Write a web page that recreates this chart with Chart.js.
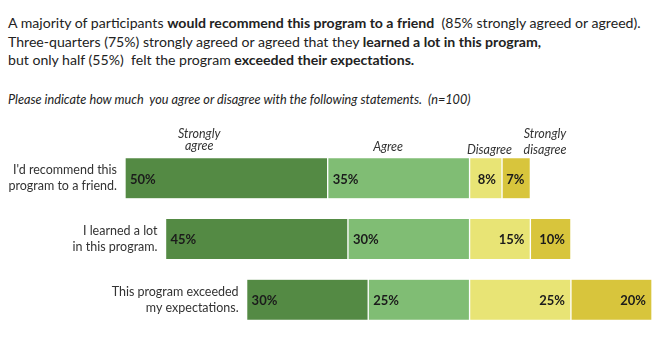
<!DOCTYPE html>
<html>
<head>
<meta charset="utf-8">
<script src="https://cdn.jsdelivr.net/npm/chart.js@4.4.1/dist/chart.umd.min.js"></script>
<style>
    body {
        margin: 0;
        width: 665px;
        height: 338px;
        overflow: hidden;
        position: relative;
        background: #fff;
        color: #222;
        font-family: Lato, "Open Sans", sans-serif;
    }
    #headline {
        position: absolute;
        left: 8px;
        top: 14px;
        font-size: 14.1px;
        line-height: 18.5px;
        white-space: pre;
    }
    #question {
        position: absolute;
        left: 8px;
        top: 91px;
        font-size: 12.7px;
        font-style: italic;
        white-space: pre;
    }
    #chartBox {
        position: absolute;
        left: 0;
        top: 110px;
        width: 665px;
        height: 228px;
    }
</style>
</head>
<body>

<div id="headline">A majority of participants <b>would recommend this program to a friend</b>  (85% strongly agreed or agreed).
Three-quarters (75%) strongly agreed or agreed that they <b>learned a lot in this program,</b>
but only half (55%)  felt the program <b>exceeded their expectations.</b></div>
<div id="question">Please indicate how much  you agree or disagree with the following statements.  (n=100)</div>

<div id="chartBox"><canvas id="surveyChart"></canvas></div>

<script>
// Survey responses, percent of participants
const statements = [
    ["I'd recommend this", "program to a friend."],
    ["I learned a lot", "in this program."],
    ["This program exceeded", "my expectations."]
];
const stronglyAgree    = [50, 45, 30];
const agree            = [35, 30, 25];
const disagree         = [8, 15, 25];
const stronglyDisagree = [7, 10, 20];

const colors = {
    stronglyAgree:    "#548a44",
    agree:            "#80bd74",
    disagree:         "#e8e475",
    stronglyDisagree: "#d8c53c"
};

// Column headings above the first bar (x given in scale units)
const headings = [
    { lines: ["Strongly", "agree"],    x: -66.7, y: [28, 40] },
    { lines: ["Agree"],                x: -20.1, y: [41] },
    { lines: ["Disagree"],             x: 4.9,   y: [44] },
    { lines: ["Strongly", "disagree"], x: 18.6,  y: [28, 44] }
];

const labelFont = "Lato, 'Open Sans', sans-serif";

function segment(label, values, color, agreeSide){
    return {
        label,
        data: values.map(v => agreeSide ? -v : v),
        backgroundColor: color,
        borderColor: "#fff",
        borderWidth: { top: 0, bottom: 0, left: 1, right: 1 },
        borderSkipped: false,
        barThickness: 40,
        agreeSide
    };
}

// Percent labels inside bars, statement text left of each bar, column headings
const surveyLabels = {
    id: "surveyLabels",
    afterDatasetsDraw(chart){
        const ctx = chart.ctx;
        const x = chart.scales.x;

        ctx.save();
        ctx.fillStyle = "#1b1b1b";
        ctx.font = `bold 13px ${labelFont}`;
        ctx.textBaseline = "middle";

        chart.data.datasets.forEach((ds, di) => {
            chart.getDatasetMeta(di).data.forEach((bar, i) => {
                const left  = Math.min(bar.x, bar.base);
                const right = Math.max(bar.x, bar.base);
                const text  = Math.abs(ds.data[i]) + "%";
                if(ds.agreeSide){
                    ctx.textAlign = "left";
                    ctx.fillText(text, left + 5, bar.y + 1);
                } else {
                    ctx.textAlign = "right";
                    ctx.fillText(text, right - 6, bar.y + 1);
                }
            });
        });

        // statement text, right aligned against the start of each bar
        ctx.fillStyle = "#333";
        ctx.font = `12.5px ${labelFont}`;
        ctx.textAlign = "right";
        const outer = chart.getDatasetMeta(1).data;
        statements.forEach((lines, i) => {
            const bar = outer[i];
            const edge = Math.min(bar.x, bar.base) - 8;
            ctx.fillText(lines[0], edge, bar.y - 8);
            ctx.fillText(lines[1], edge, bar.y + 8);
        });

        ctx.font = `italic 12.5px ${labelFont}`;
        ctx.textAlign = "center";
        ctx.textBaseline = "alphabetic";
        headings.forEach(h => {
            const px = x.getPixelForValue(h.x);
            h.lines.forEach((line, k) => ctx.fillText(line, px, h.y[k]));
        });

        ctx.restore();
    }
};

new Chart(document.getElementById("surveyChart"), {
    type: "bar",
    data: {
        labels: statements.map(s => s.join(" ")),
        datasets: [
            segment("Agree",             agree,            colors.agree,            true),
            segment("Strongly agree",    stronglyAgree,    colors.stronglyAgree,    true),
            segment("Disagree",          disagree,         colors.disagree,         false),
            segment("Strongly disagree", stronglyDisagree, colors.stronglyDisagree, false)
        ]
    },
    options: {
        indexAxis: "y",
        responsive: true,
        maintainAspectRatio: false,
        animation: false,
        layout: {
            padding: { left: 125, right: 13, top: 38, bottom: 8 }
        },
        plugins: {
            legend:  { display: false },
            tooltip: { enabled: false }
        },
        scales: {
            x: {
                display: false,
                stacked: true,
                min: -85,
                max: 45
            },
            y: {
                display: false,
                stacked: true
            }
        }
    },
    plugins: [surveyLabels]
});
</script>
</body>
</html>
